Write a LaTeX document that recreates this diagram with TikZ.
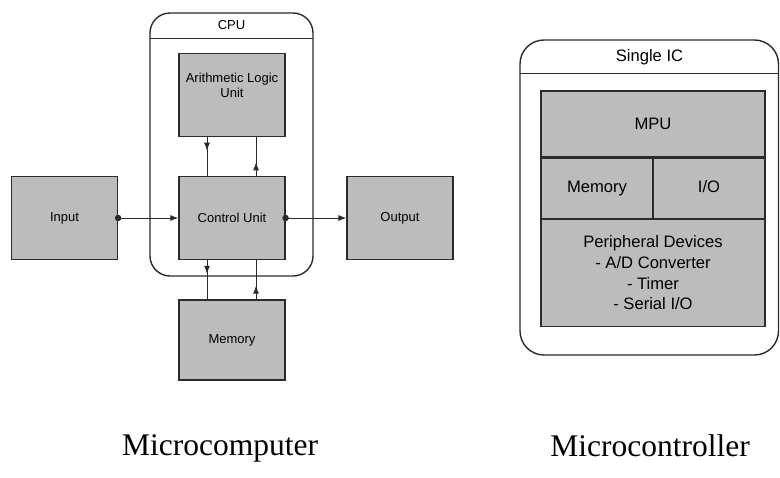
\documentclass[tikz,border=0pt]{standalone}
\usepackage{fontspec}
\setmainfont{Liberation Serif}
\setsansfont{Liberation Sans}
\usetikzlibrary{arrows.meta, positioning, calc, decorations.markings}
\definecolor{cfill}{HTML}{BCBCBC}
\definecolor{cline}{HTML}{2B2B2B}
\tikzset{
  every picture/.style={font=\sffamily, line width=0.6pt},
  unit/.style={draw=cline, fill=cfill, inner sep=0pt, minimum width=53pt, minimum height=41.5pt, align=center, font=\sffamily\fontsize{6.5}{7.5}\selectfont},
  block/.style={draw=cline, fill=cfill, inner sep=0pt, align=center, font=\sffamily\fontsize{8.3}{10.35}\selectfont},
  frame/.style={draw=cline, rounded corners=#1, line width=0.7pt},
  frame/.default=10pt,
  link/.style={draw=cline, line width=0.5pt},
  flow/.style={link, {Circle[length=3.2pt]}-{Latex[length=4pt]}, shorten <=-1.6pt},
  midarrow/.style={link, postaction={decorate}, decoration={markings, mark=at position #1 with {\arrow{Latex[length=4pt]}}}},
  midarrow/.default=0.35,
  caption/.style={font=\rmfamily\fontsize{15.75}{18}\selectfont},
}
\begin{document}
\begin{tikzpicture}[x=0.5pt, y=-0.5pt]
  \useasboundingbox (0,0) rectangle (780,477);
  % microcomputer
  \draw[frame] (150,13) rectangle (313,276);
  \draw[link] (150,38) -- (313,38);
  \node[font=\sffamily\fontsize{6.5}{7.5}\selectfont] (cpu) at (231.5,25.5) {CPU};
  \node[unit, text depth=10pt] (alu) at (232,95) {Arithmetic Logic\\ Unit};
  \node[unit] (cu) at (232,218) {Control Unit};
  \node[unit] (input) at (64.5,218) {Input};
  \node[unit] (output) at (400,218) {Output};
  \node[unit, minimum height=40pt] (memory) at (232,340) {Memory};
  \draw[midarrow] ([xshift=-12.5pt]alu.south) -- ([xshift=-12.5pt]cu.north);
  \draw[midarrow] ([xshift=12pt]cu.north) -- ([xshift=12pt]alu.south);
  \draw[midarrow] ([xshift=-12.5pt]cu.south) -- ([xshift=-12.5pt]memory.north);
  \draw[midarrow] ([xshift=12pt]memory.north) -- ([xshift=12pt]cu.south);
  \draw[flow] (input.east) -- (cu.west);
  \draw[flow] (cu.east) -- (output.west);
  % microcontroller
  \draw[frame=12pt] (520,40) rectangle (778.5,355);
  \draw[link] (520,73) -- (778.5,73);
  \node[font=\sffamily\fontsize{8.3}{10}\selectfont] (chip) at (649.5,57) {Single IC};
  \node[block, minimum width=112pt, minimum height=33pt] (mpu) at (653,124) {MPU};
  \node[block, minimum width=56pt, minimum height=30pt, text height=6pt, text depth=1.8pt, anchor=north west] (mem) at (mpu.south west) {Memory};
  \node[block, minimum width=56pt, minimum height=30pt, text height=6pt, text depth=1.8pt, anchor=north east] (io) at (mpu.south east) {I/O};
  \node[block, minimum width=112pt, minimum height=53.5pt, anchor=north] (periph) at (mpu.south |- mem.south) {Peripheral Devices\\ - A/D Converter\\ - Timer\\ - Serial I/O};
  % captions
  \node[caption] (mcomp) at (220,448) {Microcomputer};
  \node[caption] (mctrl) at (650,446) {Microcontroller};
\end{tikzpicture}
\end{document}
